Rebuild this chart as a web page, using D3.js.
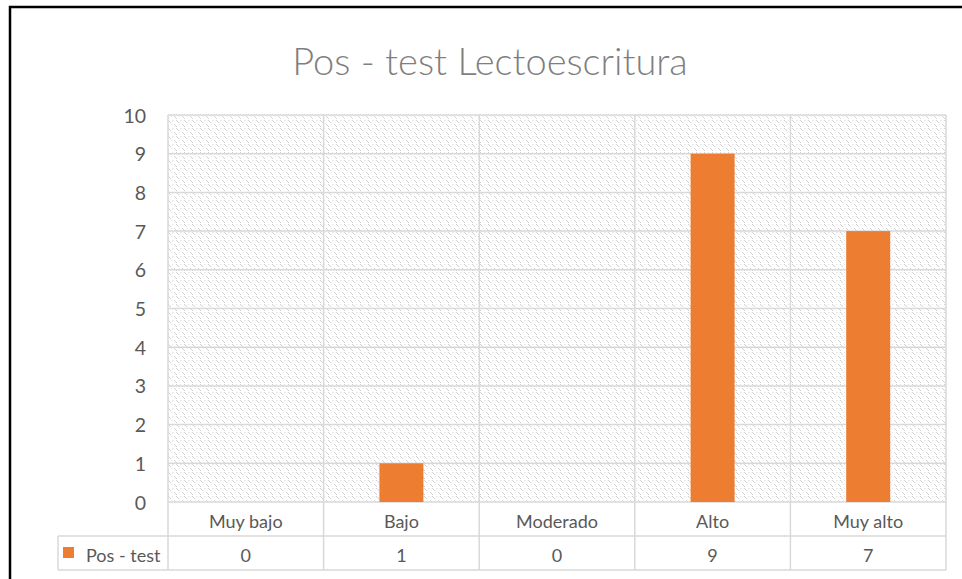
<!DOCTYPE html>
<html><head><meta charset="utf-8">
<script src="https://cdn.jsdelivr.net/npm/d3@7"></script>
<style>html,body{margin:0;padding:0;background:#fff;}svg{display:block;}</style>
</head><body>
<svg id="chart" width="962" height="579"></svg>
<script>
const title = "Pos - test Lectoescritura";
const categories = ["Muy bajo", "Bajo", "Moderado", "Alto", "Muy alto"];
const seriesName = "Pos - test";
const values = [0, 1, 0, 9, 7];
const yTicks = [0,1,2,3,4,5,6,7,8,9,10];

(function(){
const svg = d3.select("#chart");
const font = "Lato, 'Open Sans', sans-serif";
const pLeft = 168, pRight = 946, pTop = 115, pBottom = 502;
const row1 = 536, row2 = 570, legendLeft = 58;
const grid = "#d9d9d9", txt = "#595959", orange = "#ED7D31";

// outer frame
svg.append("rect").attr("x", 10).attr("y", 7).attr("width", 1000).attr("height", 700)
  .attr("fill", "#fff").attr("stroke", "#000").attr("stroke-width", 2.5);

// pattern
const defs = svg.append("defs");
const pat = defs.append("pattern").attr("id", "hatch").attr("patternUnits", "userSpaceOnUse")
  .attr("width", 8).attr("height", 8);
pat.append("rect").attr("width", 8).attr("height", 8).attr("fill", "#fff");
[[0,0],[1,1],[2,2],[6,4],[7,5],[0,6]].forEach(([dx,dy])=>{
  pat.append("rect").attr("x", dx).attr("y", dy).attr("width", 1).attr("height", 1)
    .attr("fill", "#d0d0d0");
});
pat.append("rect").attr("x",4).attr("y",0).attr("width",1).attr("height",1).attr("fill","#e2e2e2");
pat.append("rect").attr("x",3).attr("y",4).attr("width",1).attr("height",1).attr("fill","#e2e2e2");

const x = d3.scaleBand().domain(categories).range([pLeft, pRight]).paddingInner(0).paddingOuter(0);
const y = d3.scaleLinear().domain([0, 10]).range([pBottom, pTop]);

svg.append("rect").attr("x", pLeft).attr("y", pTop).attr("width", pRight-pLeft).attr("height", pBottom-pTop)
  .attr("fill", "url(#hatch)");

// horizontal gridlines
svg.append("g").selectAll("line").data(yTicks).join("line")
  .attr("x1", pLeft).attr("x2", pRight).attr("y1", d=>y(d)).attr("y2", d=>y(d))
  .attr("stroke", grid).attr("stroke-width", 1.5);
// vertical lines (category boundaries), through plot and table
const bounds = categories.map(c=>x(c)).concat([pRight]);
svg.append("g").selectAll("line").data(bounds).join("line")
  .attr("x1", d=>d).attr("x2", d=>d).attr("y1", pTop).attr("y2", row2)
  .attr("stroke", grid).attr("stroke-width", 1.5);

// bars
const bw = 44;
svg.append("g").selectAll("rect").data(values).join("rect")
  .attr("x", (d,i)=>x(categories[i]) + x.bandwidth()/2 - bw/2)
  .attr("y", d=>y(d)).attr("width", bw).attr("height", d=>y(0)-y(d))
  .attr("fill", orange);

// table lines
svg.append("line").attr("x1", legendLeft).attr("x2", pRight).attr("y1", row1).attr("y2", row1)
  .attr("stroke", grid).attr("stroke-width", 1.5);
svg.append("line").attr("x1", legendLeft).attr("x2", pRight).attr("y1", row2).attr("y2", row2)
  .attr("stroke", grid).attr("stroke-width", 1.5);
svg.append("line").attr("x1", legendLeft).attr("x2", legendLeft).attr("y1", row1).attr("y2", row2)
  .attr("stroke", grid).attr("stroke-width", 1.5);

// y axis labels
const yAxis = d3.axisLeft(y).tickValues(yTicks).tickSize(0).tickPadding(0);
const ya = svg.append("g").attr("transform", `translate(146,0)`).call(yAxis);
ya.select(".domain").remove();
ya.selectAll("text").attr("font-family", font).attr("font-size", 19.5).attr("fill", txt).attr("dy", "0.36em");

// category labels
svg.append("g").selectAll("text").data(categories).join("text")
  .attr("x", d=>x(d)+x.bandwidth()/2).attr("y", 528).attr("text-anchor", "middle")
  .attr("font-family", font).attr("font-size", 18).attr("fill", txt).text(d=>d);
// values
svg.append("g").selectAll("text").data(values).join("text")
  .attr("x", (d,i)=>x(categories[i])+x.bandwidth()/2).attr("y", 562).attr("text-anchor", "middle")
  .attr("font-family", font).attr("font-size", 18).attr("fill", txt).text(d=>d);

// legend key
svg.append("rect").attr("x", 63).attr("y", 547).attr("width", 11).attr("height", 11).attr("fill", orange);
svg.append("text").attr("x", 86).attr("y", 562).attr("font-family", font).attr("font-size", 18)
  .attr("fill", txt).text(seriesName);

// title
svg.append("text").attr("x", 490).attr("y", 75).attr("text-anchor", "middle")
  .attr("font-family", font).attr("font-size", 38).attr("font-weight", 300).attr("fill", "#7f7f7f").text(title);
})();
</script>
</body></html>
